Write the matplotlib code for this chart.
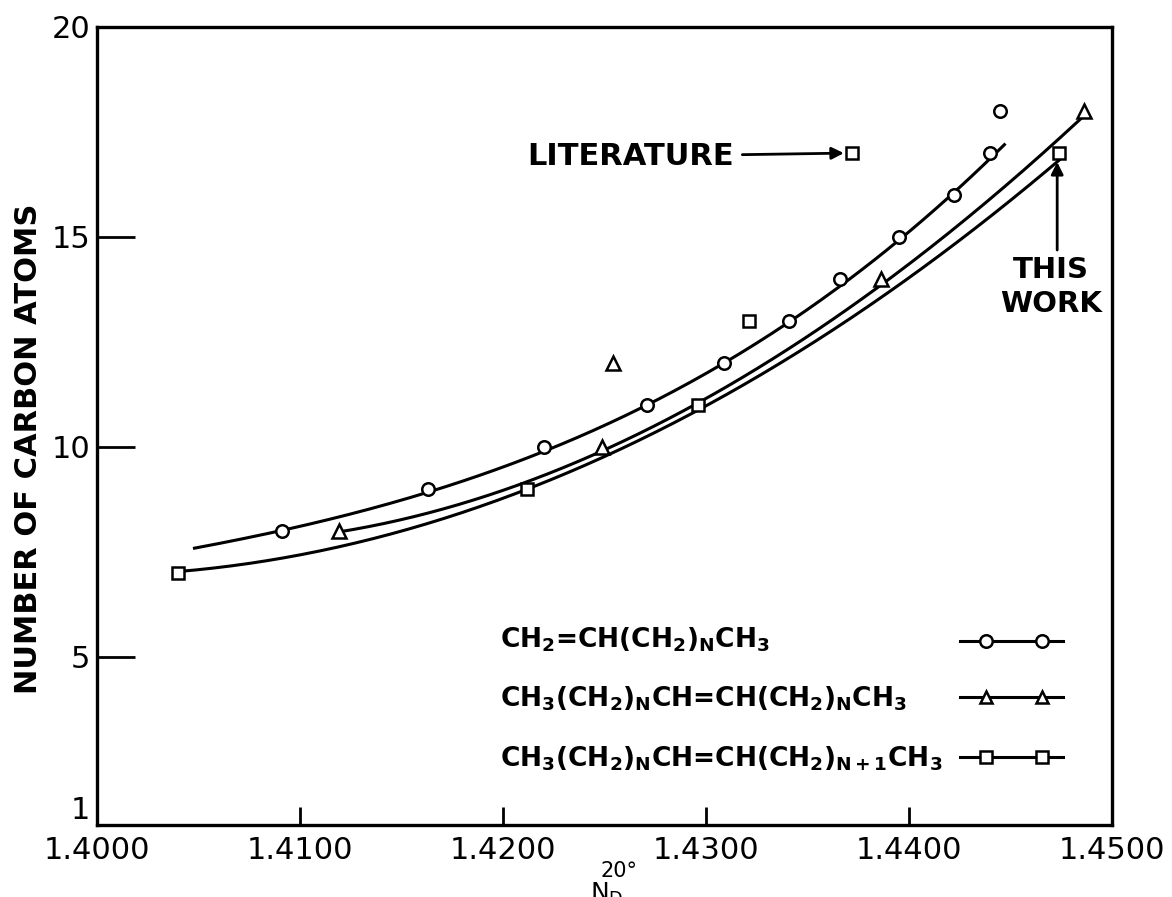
import numpy as np
import matplotlib
matplotlib.use('Agg')
import matplotlib.pyplot as plt

plt.rcParams['font.family'] = ['DejaVu Sans']
plt.rcParams['mathtext.default'] = 'regular'

# refractive index n_D^20 vs number of carbon atoms
circ_n = [1.4091, 1.4163, 1.4220, 1.4271, 1.4309, 1.4341, 1.4366, 1.4395, 1.4422, 1.4440, 1.4445]
circ_c = [8, 9, 10, 11, 12, 13, 14, 15, 16, 17, 18]
tri_n = [1.4119, 1.4249, 1.4254, 1.4386, 1.4486]
tri_c = [8, 10, 12, 14, 18]
sq_n = [1.4040, 1.4212, 1.4296, 1.4321, 1.4372, 1.4474]
sq_c = [7, 9, 11, 13, 17, 17]

# hand drawn curves (smoothed below)
circ_curve_n = [1.4048, 1.4091, 1.4163, 1.4220, 1.4271, 1.4309, 1.4341, 1.4366, 1.4396, 1.4423, 1.4447]
circ_curve_c = [7.60, 7.98, 8.95, 9.95, 10.98, 11.91, 12.93, 13.88, 15.05, 16.12, 17.14]
tri_curve_n = [1.4119, 1.4174, 1.4238, 1.4296, 1.4346, 1.4386, 1.4438, 1.4486]
tri_curve_c = [7.95, 8.62, 9.69, 11.00, 12.50, 13.81, 15.93, 17.83]
sq_curve_n = [1.4040, 1.4108, 1.4174, 1.4212, 1.4248, 1.4296, 1.4346, 1.4410, 1.4474]
sq_curve_c = [7.00, 7.60, 8.33, 8.93, 9.69, 10.93, 12.31, 14.36, 16.83]

labels = [r'CH$_2$=CH(CH$_2$)$_N$CH$_3$',
          r'CH$_3$(CH$_2$)$_N$CH=CH(CH$_2$)$_N$CH$_3$',
          r'CH$_3$(CH$_2$)$_N$CH=CH(CH$_2$)$_{N+1}$CH$_3$']


def smooth(n, c):
    p = np.polyfit(n, c, 3)
    xs = np.linspace(n[0], n[-1], 200)
    return xs, np.polyval(p, xs)


fig = plt.figure(figsize=(11.72, 8.97), dpi=100)
ax = fig.add_axes([0.0828, 0.0803, 0.8660, 0.8896])

lw = 2.2
for cn, cc in [(circ_curve_n, circ_curve_c), (tri_curve_n, tri_curve_c), (sq_curve_n, sq_curve_c)]:
    xs, ys = smooth(cn, cc)
    ax.plot(xs, ys, color='black', lw=lw, zorder=2)

mk = dict(ls='none', mfc='white', mec='black', mew=1.8, zorder=3)
ax.plot(circ_n, circ_c, marker='o', ms=9, **mk)
ax.plot(tri_n, tri_c, marker='^', ms=10, **mk)
ax.plot(sq_n, sq_c, marker='s', ms=9, **mk)

ax.set_xlim(1.40, 1.45)
ax.set_ylim(1, 20)
ax.set_xticks([1.40, 1.41, 1.42, 1.43, 1.44, 1.45])
ax.set_xticklabels(['1.4000', '1.4100', '1.4200', '1.4300', '1.4400', '1.4500'])
ax.set_yticks([1, 5, 10, 15, 20])
ax.set_yticklabels(['1', '5', '10', '15', '20'])
ax.get_yticklabels()[0].set_va('bottom')
ax.tick_params(axis='x', direction='in', length=13, width=2, labelsize=22, pad=8)
ax.tick_params(axis='y', direction='in', length=27, width=2, labelsize=22, pad=5)
for s in ax.spines.values():
    s.set_linewidth(2.4)

ax.set_ylabel('NUMBER OF CARBON ATOMS', fontsize=22, fontweight='bold')
ax.yaxis.set_label_coords(-0.053, 0.472)

# x label N_D^20, cut by the bottom edge as in the original
fig.text(590 / 1172, -0.004, r'N$_D$', fontsize=18, ha='left', va='baseline')
fig.text(601 / 1172, 0.022, '20°', fontsize=15, ha='left', va='baseline')

# annotations
ax.annotate('LITERATURE', xy=(1.4372, 17), xytext=(1.4212, 16.92),
            fontsize=22, fontweight='bold', ha='left', va='center',
            arrowprops=dict(arrowstyle='-|>', lw=2, color='black', mutation_scale=18,
                            shrinkA=4, shrinkB=6))
ax.text(1.4470, 13.81, 'THIS\nWORK', fontsize=21, fontweight='bold',
        ha='center', va='center', linespacing=1.3)
ax.annotate('', xy=(1.4473, 16.85), xytext=(1.4473, 14.69),
            arrowprops=dict(arrowstyle='-|>', lw=2, color='black', mutation_scale=18,
                            shrinkA=0, shrinkB=2))

# legend drawn by hand: formula on the left, sample on the right
markers = ['o', '^', 's']
text_y = [0.2218, 0.148, 0.0727]
line_y = [0.2306, 0.1604, 0.0852]
for lab, m, ty, ly in zip(labels, markers, text_y, line_y):
    ax.text(0.397, ty, lab, transform=ax.transAxes, fontsize=19, fontweight='bold',
            ha='left', va='baseline')
    ax.plot([0.850, 0.952], [ly, ly], color='black', lw=lw, transform=ax.transAxes)
    ax.plot([0.876, 0.931], [ly, ly], marker=m, ms=9, transform=ax.transAxes, **mk)

fig.savefig('out.png', dpi=100)
